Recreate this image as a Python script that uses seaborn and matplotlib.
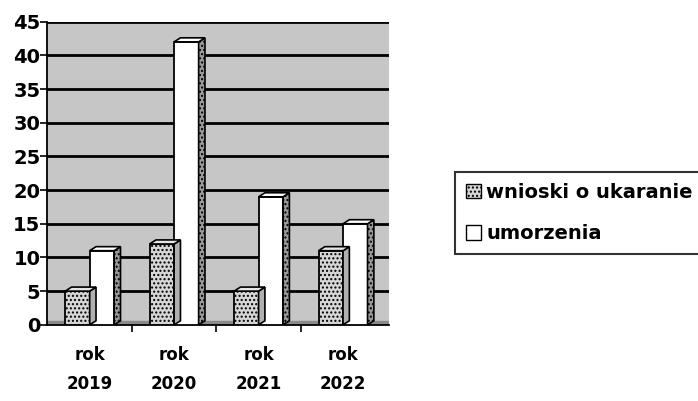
import numpy as np
import pandas as pd
import matplotlib
matplotlib.use("Agg")
import matplotlib.pyplot as plt
from matplotlib.patches import Polygon
import seaborn as sns

years = ["rok\n2019", "rok\n2020", "rok\n2021", "rok\n2022"]
series = ["wnioski o ukaranie", "umorzenia"]
wnioski = [5, 12, 5, 11]
umorzenia = [11, 42, 19, 15]

df = pd.DataFrame({
    "rok": years * 2,
    "seria": [series[0]] * 4 + [series[1]] * 4,
    "liczba": wnioski + umorzenia,
})

sns.set_theme(style="white")
plt.rcParams["font.family"] = ["DejaVu Sans"]
plt.rcParams["text.color"] = "black"
plt.rcParams["xtick.color"] = "black"
plt.rcParams["ytick.color"] = "black"

fig = plt.figure(figsize=(6.98, 4.01), dpi=100)
ax = fig.add_axes([0.068, 0.19, 0.49, 0.756])

wall = "#c6c6c6"
bar_grey = "#d6d6d6"
ax.set_facecolor(wall)

sns.barplot(data=df, x="rok", y="liczba", hue="seria", hue_order=series,
            palette=[bar_grey, "white"], width=0.58, edgecolor="black",
            linewidth=1.3, ax=ax, legend=False, zorder=3)

# fake 3d: top and side faces built from the bar patches
dx, dy = 0.075, 0.6
for i, p in enumerate(ax.patches):
    x, w, h = p.get_x(), p.get_width(), p.get_height()
    grey = i < 4
    if grey:
        p.set_hatch("....")
    top = Polygon([(x, h), (x + dx, h + dy), (x + w + dx, h + dy), (x + w, h)],
                  closed=True, fc="white" if not grey else "#e6e6e6",
                  ec="black", lw=1.2, zorder=3)
    side = Polygon([(x + w, 0), (x + w + dx, dy), (x + w + dx, h + dy), (x + w, h)],
                   closed=True, fc="#9a9a9a" if not grey else "#b0b0b0",
                   ec="black", lw=1.2, zorder=3)
    if not grey:
        side.set_hatch("....")
    ax.add_patch(side)
    ax.add_patch(top)

ax.set_ylim(0, 45)
ax.set_xlim(-0.5, 3.55)
ax.set_yticks(np.arange(0, 46, 5))
for yv in np.arange(5, 46, 5):
    ax.axhline(yv, color="black", lw=2, zorder=1)
ax.axhspan(0, 0.6, color="#8a8a8a", zorder=1)

ax.set_xlabel("")
ax.set_ylabel("")
ax.tick_params(axis="y", which="major", left=True, length=5, width=1.2,
               direction="out", labelsize=14, pad=0, color="black")
ax.tick_params(axis="x", which="major", bottom=False, labelsize=12, pad=9)
ax.set_xticks([0.5, 1.5, 2.5], minor=True)
ax.tick_params(axis="x", which="minor", bottom=True, length=5, width=1.2,
               direction="out", color="black")
for lab in ax.get_yticklabels() + ax.get_xticklabels():
    lab.set_fontweight("bold")
for lab in ax.get_xticklabels():
    lab.set_linespacing(1.8)

for side_name in ["top", "right"]:
    ax.spines[side_name].set_visible(False)
for side_name in ["left", "bottom"]:
    ax.spines[side_name].set_color("black")
    ax.spines[side_name].set_linewidth(1.3)

handles = [plt.Rectangle((0, 0), 1, 1, fc=bar_grey, ec="black", hatch="...."),
           plt.Rectangle((0, 0), 1, 1, fc="white", ec="black")]
leg = fig.legend(handles, series, loc="upper left",
                 bbox_to_anchor=(0.652, 0.571), frameon=True, fancybox=False,
                 handlelength=0.8, handleheight=0.8, handletextpad=0.25,
                 borderpad=0.55, labelspacing=1.15, borderaxespad=0,
                 prop={"size": 14, "weight": "bold"})
leg.get_frame().set_edgecolor("black")
leg.get_frame().set_linewidth(1.5)

fig.savefig("out.png", dpi=100)
